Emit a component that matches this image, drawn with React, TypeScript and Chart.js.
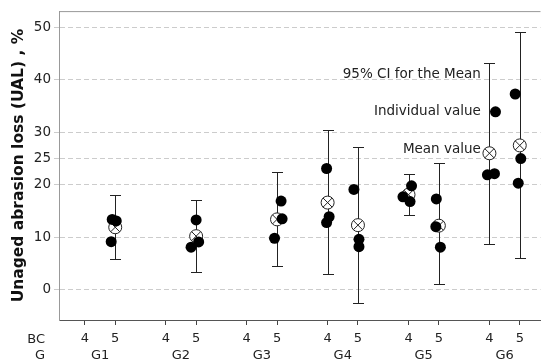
import React, { useEffect, useRef } from 'react';
import { Chart, registerables } from 'chart.js';

Chart.register(...registerables);

// ---- data ----
const GROUPS = ['G1', 'G2', 'G3', 'G4', 'G5', 'G6'];
const BC_VALUES = [4, 5];
const Y_TICKS = [0, 10, 20, 25, 30, 40, 50];

// one entry per (group, BC) cell that has data
const CELL_GROUP = [0, 1, 2, 3, 3, 4, 4, 5, 5];
const CELL_BC = [5, 5, 5, 4, 5, 4, 5, 4, 5];
const MEANS = [11.9, 10.2, 13.4, 16.6, 12.3, 18.1, 12.2, 26.0, 27.5];
const CI_LOW = [5.85, 3.4, 4.6, 2.9, -2.5, 14.2, 1.1, 8.8, 6.0];
const CI_HIGH = [18.1, 17.0, 22.4, 30.5, 27.2, 22.0, 24.1, 43.3, 49.2];
const INDIVIDUAL = [
  [13.4, 13.1, 9.15],
  [13.3, 8.1, 9.1],
  [16.9, 13.5, 9.8],
  [23.1, 13.9, 12.8],
  [19.1, 9.6, 8.2],
  [19.8, 17.7, 16.8],
  [17.3, 12.0, 8.1],
  [33.9, 21.9, 22.1],
  [37.3, 25.0, 20.3],
];
// horizontal jitter of the individual points (in x units)
const JITTER = [
  [-0.3, 0.1, -0.4],
  [0, -0.5, 0.25],
  [0.4, 0.5, -0.25],
  [-0.1, 0.15, -0.1],
  [-0.4, 0.1, 0.1],
  [0.3, -0.55, 0.15],
  [-0.25, -0.3, 0.15],
  [0.6, -0.2, 0.5],
  [-0.45, 0.1, -0.15],
];
const ANNOTATIONS = ['95% CI for the Mean', 'Individual value', 'Mean value'];
const ANNOTATION_Y = [41.0, 33.9, 26.8];
const ANNOTATION_X = 39.15;
const Y_TITLE = 'Unaged abrasion loss (UAL) , %';

// ---- layout helpers ----
const GROUP_STEP = 8;
const BC_STEP = 3;
const xOf = (g: number, bc: number) => g * GROUP_STEP + (bc - 4) * BC_STEP;

const FONT = '"DejaVu Sans", Verdana, sans-serif';

const overlayPlugin = {
  id: 'overlay',
  beforeDatasetsDraw(chart: any) {
    const { ctx, scales } = chart;
    const x = scales.x;
    const y = scales.y;
    ctx.save();
    ctx.strokeStyle = '#222';
    ctx.lineWidth = 1;
    MEANS.forEach((_, i) => {
      const px = Math.round(x.getPixelForValue(xOf(CELL_GROUP[i], CELL_BC[i]))) + 0.5;
      const yt = Math.round(y.getPixelForValue(CI_HIGH[i])) + 0.5;
      const yb = Math.round(y.getPixelForValue(CI_LOW[i])) + 0.5;
      ctx.beginPath();
      ctx.moveTo(px, yt);
      ctx.lineTo(px, yb);
      ctx.moveTo(px - 5.5, yt);
      ctx.lineTo(px + 5.5, yt);
      ctx.moveTo(px - 5.5, yb);
      ctx.lineTo(px + 5.5, yb);
      ctx.stroke();
    });
    ctx.restore();
  },
  afterDraw(chart: any) {
    const { ctx, chartArea, scales } = chart;
    const x = scales.x;
    const y = scales.y;
    ctx.save();
    // top frame line
    ctx.strokeStyle = '#999';
    ctx.lineWidth = 1;
    ctx.beginPath();
    ctx.moveTo(chartArea.left, chartArea.top + 0.5);
    ctx.lineTo(chartArea.right, chartArea.top + 0.5);
    ctx.stroke();

    // row labels and group labels
    ctx.fillStyle = '#222';
    ctx.font = `13px ${FONT}`;
    ctx.textBaseline = 'middle';
    ctx.textAlign = 'right';
    const bcRowY = chartArea.bottom + 19.5;
    const gRowY = chartArea.bottom + 35.5;
    ctx.fillText('BC', chartArea.left - 14, bcRowY);
    ctx.fillText('G', chartArea.left - 14, gRowY);
    ctx.textAlign = 'center';
    GROUPS.forEach((g, gi) => {
      const mid = (xOf(gi, BC_VALUES[0]) + xOf(gi, BC_VALUES[1])) / 2;
      ctx.fillText(g, x.getPixelForValue(mid), gRowY);
    });

    // annotations
    ctx.textAlign = 'right';
    ctx.fillStyle = '#222';
    ctx.font = `13.5px ${FONT}`;
    ANNOTATIONS.forEach((t, i) => {
      ctx.fillText(t, x.getPixelForValue(ANNOTATION_X), y.getPixelForValue(ANNOTATION_Y[i]));
    });
    ctx.restore();
  },
};

export default function App() {
  const ref = useRef<HTMLCanvasElement | null>(null);

  useEffect(() => {
    if (!ref.current) return;
    const meanPts = MEANS.map((m, i) => ({ x: xOf(CELL_GROUP[i], CELL_BC[i]), y: m }));
    const indPts: { x: number; y: number }[] = [];
    INDIVIDUAL.forEach((vals, i) => {
      vals.forEach((v, j) => {
        indPts.push({ x: xOf(CELL_GROUP[i], CELL_BC[i]) + JITTER[i][j], y: v });
      });
    });

    const chart = new Chart(ref.current, {
      type: 'scatter',
      data: {
        datasets: [
          {
            label: 'Individual value',
            data: indPts,
            order: 0,
            pointStyle: 'circle',
            pointRadius: 5.5,
            pointBackgroundColor: '#000',
            pointBorderColor: '#000',
            pointBorderWidth: 0,
          },
          {
            label: 'Mean value X',
            data: meanPts,
            order: 1,
            pointStyle: 'crossRot',
            pointRadius: 6.5,
            pointBorderColor: '#222',
            pointBorderWidth: 1,
          },
          {
            label: 'Mean value',
            data: meanPts,
            order: 2,
            pointStyle: 'circle',
            pointRadius: 6.5,
            pointBackgroundColor: '#fff',
            pointBorderColor: '#222',
            pointBorderWidth: 1,
          },
        ],
      },
      options: {
        responsive: false,
        animation: false,
        layout: { padding: { top: 11, left: 0, right: 0, bottom: 0 } },
        plugins: {
          legend: { display: false },
          tooltip: { enabled: false },
        },
        scales: {
          x: {
            type: 'linear',
            min: -2.56,
            max: 45.05,
            afterFit: (s: any) => {
              s.height = 44;
            },
            afterBuildTicks: (s: any) => {
              const t: { value: number }[] = [];
              GROUPS.forEach((_, gi) => BC_VALUES.forEach((bc) => t.push({ value: xOf(gi, bc) })));
              s.ticks = t;
            },
            grid: {
              drawOnChartArea: false,
              drawTicks: true,
              tickLength: 5,
              tickColor: '#444',
            },
            border: { display: true, color: '#555', width: 1 },
            ticks: {
              padding: 6,
              color: '#222',
              font: { family: FONT, size: 13 },
              maxRotation: 0,
              autoSkip: false,
              callback: (v: any) => (Number(v) % GROUP_STEP === 0 ? String(BC_VALUES[0]) : String(BC_VALUES[1])),
            },
          },
          y: {
            type: 'linear',
            min: -5.78,
            max: 53.1,
            afterFit: (s: any) => {
              s.width = 59;
            },
            afterBuildTicks: (s: any) => {
              s.ticks = Y_TICKS.map((v) => ({ value: v }));
            },
            grid: {
              color: '#cccccc',
              tickLength: 5,
              tickColor: '#cccccc',
            },
            border: { display: true, color: '#999', width: 1, dash: [5, 3] },
            ticks: {
              padding: 3,
              color: '#222',
              font: { family: FONT, size: 13.5 },
            },
            title: {
              display: true,
              text: Y_TITLE,
              color: '#111',
              font: { family: FONT, size: 15.5, weight: 'bold' },
              padding: { top: 10, bottom: 0 },
            },
          },
        },
      },
      plugins: [overlayPlugin],
    });
    return () => chart.destroy();
  }, []);

  return (
    <div style={{ position: 'fixed', left: 0, top: 0, width: 548, height: 364, background: '#fff' }}>
      <canvas ref={ref} width={548} height={364} />
    </div>
  );
}
